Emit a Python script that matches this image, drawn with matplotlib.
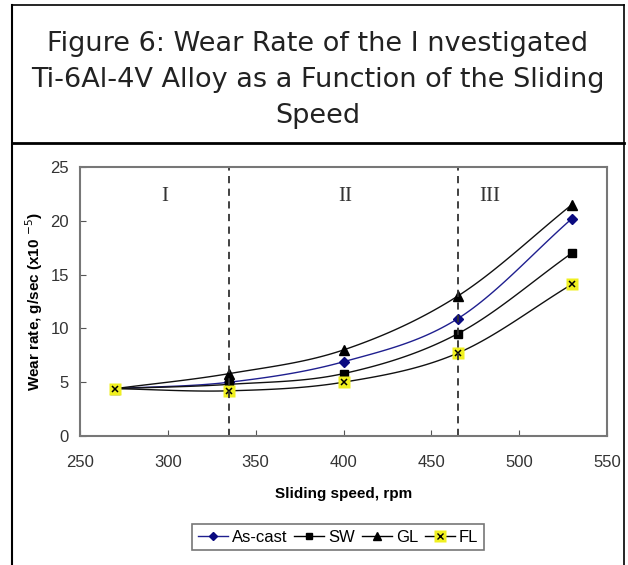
import numpy as np
import matplotlib
matplotlib.use("Agg")
import matplotlib.pyplot as plt
from matplotlib.lines import Line2D
from matplotlib.legend_handler import HandlerTuple

speed = [270, 335, 400, 465, 530]
as_cast = [4.4, 5.0, 6.9, 10.9, 20.2]
sw = [4.4, 4.8, 5.8, 9.5, 17.0]
gl = [4.4, 5.8, 8.0, 13.0, 21.5]
fl = [4.4, 4.2, 5.0, 7.7, 14.1]
region_x = [335, 465]
region_labels = ["I", "II", "III"]
region_label_x = [298, 401, 483]
title_lines = ["Figure 6: Wear Rate of the I nvestigated",
               "Ti-6Al-4V Alloy as a Function of the Sliding",
               "Speed"]


def smooth(x, y, n=30):
    # Catmull-Rom style smoothing (like Excel smoothed lines)
    x = np.asarray(x, float); y = np.asarray(y, float)
    px = np.concatenate([[2 * x[0] - x[1]], x, [2 * x[-1] - x[-2]]])
    py = np.concatenate([[2 * y[0] - y[1]], y, [2 * y[-1] - y[-2]]])
    xs, ys = [], []
    for i in range(1, len(px) - 2):
        t = np.linspace(0, 1, n)
        for arr, out in ((px, xs), (py, ys)):
            p0, p1, p2, p3 = arr[i - 1], arr[i], arr[i + 1], arr[i + 2]
            out.extend(0.5 * ((2 * p1) + (-p0 + p2) * t + (2 * p0 - 5 * p1 + 4 * p2 - p3) * t ** 2
                              + (-p0 + 3 * p1 - 3 * p2 + p3) * t ** 3))
    return xs, ys


fig = plt.figure(figsize=(6.28, 5.65), dpi=100)
W, H = 628, 565

def fx(px): return px / W
def fy(py): return 1 - py / H

fig.add_artist(Line2D([fx(12), fx(624)], [fy(5), fy(5)], color="black", lw=1.2))
fig.add_artist(Line2D([fx(12), fx(12)], [fy(5), fy(565)], color="black", lw=1.5))
fig.add_artist(Line2D([fx(624), fx(624)], [fy(5), fy(565)], color="black", lw=1.2))
fig.add_artist(Line2D([fx(12), fx(624)], [fy(143), fy(143)], color="black", lw=2.0))

for i, line in enumerate(title_lines):
    fig.text(fx(318), fy(44 + 36 * i), line, ha="center", va="center", fontsize=19.5,
             family="DejaVu Sans", color="#222222")

ax = fig.add_axes([fx(80), fy(436), (607 - 80) / W, (436 - 167) / H])

x_s, y_s = smooth(speed, as_cast)
ax.plot(x_s, y_s, color="#1f1f8f", lw=1)
for ys_ in (sw, gl, fl):
    a, b = smooth(speed, ys_)
    ax.plot(a, b, color="#111111", lw=1)

ax.plot(speed, as_cast, ls="none", marker="D", ms=5, color="#0a0a80")
ax.plot(speed, sw, ls="none", marker="s", ms=6, color="black")
ax.plot(speed, gl, ls="none", marker="^", ms=7, color="black")
ax.plot(speed, fl, ls="none", marker="s", ms=9, color="#f0f020", mec="none")
ax.plot(speed, fl, ls="none", marker="x", ms=5, mew=1.1, color="black")

for rx in region_x:
    ax.axvline(rx, color="#333333", ls=(0, (4, 3)), lw=1.3)
for lx, lab in zip(region_label_x, region_labels):
    ax.text(lx, 22.3, lab, ha="center", va="center", fontsize=15,
            family="Liberation Serif", color="#333333")

ax.set_xlim(250, 550)
ax.set_ylim(0, 25)
ax.set_xticks([250, 300, 350, 400, 450, 500, 550])
ax.set_yticks([0, 5, 10, 15, 20, 25])
ax.tick_params(direction="in", length=4, color="#555555", labelsize=12,
               labelcolor="#333333")
ax.tick_params(axis="x", pad=14)
ax.tick_params(axis="y", pad=8)
for lab in ax.get_xticklabels() + ax.get_yticklabels():
    lab.set_family("Liberation Sans")
for s in ax.spines.values():
    s.set_color("#777777")
    s.set_linewidth(1.5)

ax.set_xlabel("Sliding speed, rpm", fontsize=11, fontweight="bold",
              family="Liberation Sans", labelpad=12)
ax.set_ylabel("Wear rate, g/sec (x10 $^{-5}$)", fontsize=11, fontweight="bold",
              family="Liberation Sans", labelpad=4)

h1 = Line2D([], [], color="#1f1f8f", marker="D", ms=4, mfc="#0a0a80", mec="#0a0a80", lw=1)
h2 = Line2D([], [], color="black", marker="s", ms=5, lw=1)
h3 = Line2D([], [], color="black", marker="^", ms=6, lw=1)
h4a = Line2D([], [], color="black", lw=1)
h4b = Line2D([], [], ls="none", marker="s", ms=8, color="#f0f020", mec="none")
h4c = Line2D([], [], ls="none", marker="x", ms=4, color="black", mew=1.0)
leg = fig.legend([h1, h2, h3, (h4a, h4b, h4c)], ["As-cast", "SW", "GL", "FL"],
                 handler_map={tuple: HandlerTuple(ndivide=1, pad=0)},
                 loc="center", bbox_to_anchor=(fx(338), fy(537)), ncol=4,
                 frameon=True, fancybox=False, edgecolor="#555555",
                 handlelength=1.8, handletextpad=0.25, columnspacing=0.4,
                 borderpad=0.35, prop={"family": "Liberation Sans", "size": 12})
leg.get_frame().set_linewidth(1.2)

fig.savefig("out.png", dpi=100)
